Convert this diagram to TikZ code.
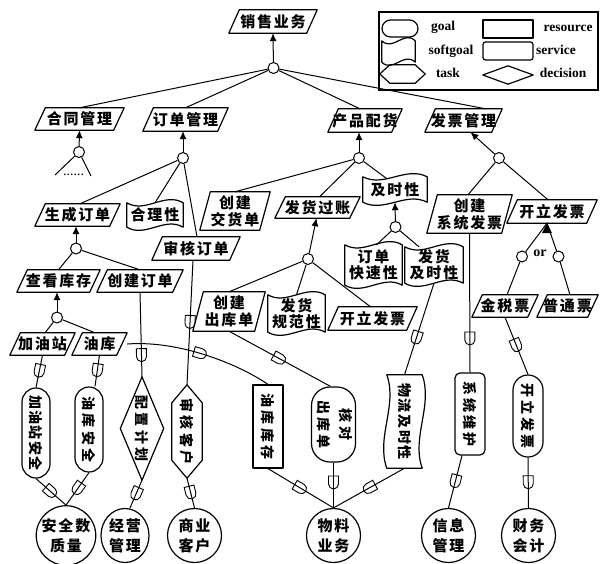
\documentclass[tikz,border=0pt]{standalone}
\usepackage{fontspec}
\setmainfont{Liberation Serif}
\newfontfamily\cjk[LetterSpace=12]{Noto Sans CJK SC}
\newfontfamily\cjkv[LetterSpace=22]{Noto Sans CJK SC}
\usetikzlibrary{calc,arrows.meta,decorations.markings,shapes.geometric}
\def\slant{10.5pt}
\def\wv{11pt}
\tikzset{
  shp/.style={line width=1.2pt, line join=round},
  lnk/.style={line width=1pt},
  arr/.style={lnk, -{Latex[length=8pt,width=7pt]}},
  txt/.style={inner sep=0pt, minimum height=23pt, font=\cjk\bfseries\fontsize{15pt}{17pt}\selectfont, align=center},
  vtxt/.style={inner sep=0pt, font=\cjkv\bfseries\fontsize{14pt}{17pt}\selectfont},
  andc/.style={circle, draw, line width=1pt, minimum size=11pt, inner sep=0pt, fill=white},
  actor/.style={circle, draw, shp, minimum size=54pt, inner sep=0pt, font=\cjk\bfseries\fontsize{15pt}{20pt}\selectfont, align=center},
  lbl/.style={inner sep=0pt, font=\bfseries\fontsize{13.5pt}{15pt}\selectfont},
  dep/.style={postaction={decorate, decoration={markings, mark=at position #1 with {\draw[line width=0.9pt] (-7pt,-5pt) -- (1pt,-5pt) arc[start angle=-90,end angle=90,radius=5pt] -- (-7pt,5pt) -- cycle;}}}},
  dep/.default=0.5
}
\newcommand\tskout[1]{\draw[shp] ($(#1.north west)+(\slant,0pt)$) -- (#1.north east) -- ($(#1.south east)-(\slant,0pt)$) -- (#1.south west) -- cycle;}
\newcommand\tasknd[4][]{\node[txt,#1] (#2) at (#3) {#4};\tskout{#2}}
\newcommand\sgout[1]{\draw[shp] (#1.north west) .. controls ($(#1.north west)!0.33!(#1.north east)+(0pt,-\wv)$) and ($(#1.north west)!0.67!(#1.north east)+(0pt,\wv)$) .. (#1.north east) -- (#1.south east) .. controls ($(#1.south west)!0.67!(#1.south east)+(0pt,\wv)$) and ($(#1.south west)!0.33!(#1.south east)+(0pt,-\wv)$) .. (#1.south west) -- cycle;}
\newcommand\softnd[4][]{\node[txt,#1] (#2) at (#3) {#4};\sgout{#2}}
\newcommand\sgvout[1]{\draw[shp] (#1.north west) -- (#1.north east) .. controls ($(#1.north east)!0.33!(#1.south east)+(\wv,0pt)$) and ($(#1.north east)!0.67!(#1.south east)+(-\wv,0pt)$) .. (#1.south east) -- (#1.south west) .. controls ($(#1.north west)!0.67!(#1.south west)+(-\wv,0pt)$) and ($(#1.north west)!0.33!(#1.south west)+(\wv,0pt)$) .. (#1.north west) -- cycle;}
\newcommand\dmout[1]{\draw[shp] (#1.north) -- (#1.east) -- (#1.south) -- (#1.west) -- cycle;}
\newcommand\hxvout[1]{\draw[shp] (#1.north) -- ($(#1.north east)+(0pt,-18pt)$) -- ($(#1.south east)+(0pt,18pt)$) -- (#1.south) -- ($(#1.south west)+(0pt,18pt)$) -- ($(#1.north west)+(0pt,-18pt)$) -- cycle;}
\begin{document}
\begin{tikzpicture}[x=1pt,y=-1pt]
\useasboundingbox (0,0) rectangle (600,563);
% ---------- legend ----------
\node[draw, line width=1.5pt, minimum width=219pt, minimum height=78pt, inner sep=0pt] (legend) at (488.5,51) {};
\node[draw, shp, rounded corners=8.5pt, minimum width=36pt, minimum height=17pt, inner sep=0pt] (lgoal) at (400,28.5) {};
\node[lbl] (lgoalt) at (443,27) {goal};
\node[inner sep=0pt, minimum width=33pt, minimum height=21pt] (lsoft) at (398.5,51.5) {};
\sgout{lsoft}
\node[lbl] (lsoftt) at (451,51) {softgoal};
\node[inner sep=0pt, minimum width=45pt, minimum height=18pt] (ltask) at (402.5,74) {};
\draw[shp] (ltask.west) -- ($(ltask.north west)+(10pt,0pt)$) -- ($(ltask.north east)+(-10pt,0pt)$) -- (ltask.east) -- ($(ltask.south east)+(-10pt,0pt)$) -- ($(ltask.south west)+(10pt,0pt)$) -- cycle;
\node[lbl] (ltaskt) at (448,73) {task};
\node[draw, shp, minimum width=50pt, minimum height=18pt, inner sep=0pt] (lres) at (508,29) {};
\node[lbl] (lrest) at (568,28) {resource};
\node[draw, shp, rounded corners=2.5pt, minimum width=50pt, minimum height=18pt, inner sep=0pt] (lserv) at (508,51) {};
\node[lbl] (lservt) at (556,50) {service};
\node[inner sep=0pt, minimum width=50pt, minimum height=18pt] (ldec) at (508,75) {};
\dmout{ldec}
\node[lbl] (ldect) at (563,73) {decision};
% ---------- tasks ----------
\tasknd[minimum width=88pt]{xs}{273,21.5}{销售业务}
\tasknd[minimum width=89pt, minimum height=22pt]{htgl}{79.5,119}{合同管理}
\tasknd[minimum width=85pt]{ddgl}{185.5,119.5}{订单管理}
\tasknd[minimum width=74pt]{cppj}{365,120.5}{产品配货}
\tasknd[minimum width=77pt]{fpgl}{463.5,120.5}{发票管理}
\tasknd[minimum width=85pt, minimum height=22pt]{scdd}{77.5,215}{生成订单}
\tasknd[minimum width=88pt]{shdd}{196,248.5}{审核订单}
\tasknd[minimum width=70pt, minimum height=38pt]{cjjhd}{235,211}{创建\\交货单}
\tasknd[minimum width=85pt, minimum height=21pt]{fhgz}{317.5,207.5}{发货过账}
\tasknd[minimum width=83pt, minimum height=22pt]{ckkc}{58.5,281}{查看库存}
\tasknd[minimum width=86pt, minimum height=22pt]{cjdd}{140,281}{创建订单}
\tasknd[minimum width=65pt, minimum height=22pt]{jyz}{42.5,344}{加油站}
\tasknd[minimum width=55pt, minimum height=22pt]{yk}{99.5,344}{油库}
\tasknd[minimum width=72pt, minimum height=39pt]{cjckd}{229,311.5}{创建\\出库单}
\tasknd[minimum width=89pt]{klfpa}{372.5,318.5}{开立发票}
\tasknd[minimum width=85pt, minimum height=38pt]{cjxtfp}{469.5,214}{创建\\系统发票}
\tasknd[minimum width=90pt]{klfpb}{552,211.5}{开立发票}
\tasknd[minimum width=66pt, minimum height=22pt]{jsp}{505,306}{金税票}
\tasknd[minimum width=61pt, minimum height=22pt]{ptp}{567.5,306}{普通票}
% ---------- softgoals ----------
\softnd[minimum width=56pt, minimum height=24pt]{hlx}{155,215}{合理性}
\softnd[minimum width=64pt, minimum height=25pt]{jsx}{395,189.5}{及时性}
\softnd[minimum width=57pt, minimum height=40pt, font=\cjk\bfseries\fontsize{15pt}{16pt}\selectfont]{ddksx}{373.5,265}{订单\\快速性}
\softnd[minimum width=58pt, minimum height=36pt, font=\cjk\bfseries\fontsize{15pt}{16pt}\selectfont]{fhjsx}{434,265}{发货\\及时性}
\softnd[minimum width=57pt, minimum height=37pt, font=\cjk\bfseries\fontsize{15pt}{16pt}\selectfont]{fhgfx}{296.5,313.5}{发货\\规范性}
% ---------- vertical dependums ----------
\node[vtxt, draw, shp, rounded corners=14pt, minimum width=28pt, minimum height=90pt] (jyzaq) at (36,433) {\rotatebox{-90}{\addfontfeature{LetterSpace=10}加油站安全}};
\node[vtxt, draw, shp, rounded corners=14pt, minimum width=28pt, minimum height=85pt] (ykaq) at (89,429.5) {\rotatebox{-90}{油库安全}};
\node[vtxt, minimum width=43pt, minimum height=103pt] (pzjh) at (142,428.5) {\rotatebox{-90}{配置计划}};
\dmout{pzjh}
\node[vtxt, minimum width=30pt, minimum height=93pt] (shkh) at (187,431.5) {\rotatebox{-90}{审核客户}};
\hxvout{shkh}
\node[vtxt, draw, shp, minimum width=30pt, minimum height=83pt] (ykkc) at (268,426.5) {\rotatebox{-90}{油库库存}};
\node[vtxt, draw, shp, rounded corners=18.5pt, minimum width=37pt, minimum height=75pt, font=\cjkv\bfseries\fontsize{14pt}{22pt}\selectfont] (hdckd) at (333.5,424.5) {\rotatebox{-90}{\begin{tabular}{@{}c@{}}核对\\出库单\end{tabular}}};
\node[vtxt, minimum width=35pt, minimum height=93pt] (wljsx) at (404.5,421.5) {\rotatebox{-90}{\addfontfeature{LetterSpace=12}物流及时性}};
\sgvout{wljsx}
\node[vtxt, draw, shp, rounded corners=5pt, minimum width=30pt, minimum height=82pt] (xtwh) at (470,414) {\rotatebox{-90}{系统维护}};
\node[vtxt, draw, shp, rounded corners=15pt, minimum width=30pt, minimum height=82pt] (klfpc) at (528,416) {\rotatebox{-90}{开立发票}};
% ---------- actors ----------
\node[actor] (aqs) at (66,535.5) {安全数\\质量};
\node[actor, ellipse, minimum width=48pt] (jygl) at (125,535.5) {经营\\管理};
\node[actor] (syk) at (194.5,535.5) {商业\\客户};
\node[actor] (wlyw) at (333.5,535.5) {物料\\业务};
\node[actor] (xxgl) at (448.5,535.5) {信息\\管理};
\node[actor] (cwkj) at (528.5,535.5) {财务\\会计};
% ---------- decomposition ----------
\node[andc] (c1) at (273.5,68) {};
\node[andc] (c2) at (79,152) {};
\node[andc] (c3) at (183,158) {};
\node[andc] (c4) at (359,158) {};
\node[andc] (c5) at (499,158) {};
\node[andc] (c6) at (76,248.5) {};
\node[andc] (c7) at (57,317.5) {};
\node[andc] (c8) at (308,259) {};
\node[andc] (c9) at (395.5,227) {};
\node[andc] (c10) at (522,256.5) {};
\node[andc] (c11) at (558.5,256.5) {};
\node[inner sep=0pt, font=\bfseries\fontsize{14pt}{14pt}\selectfont] (ortxt) at (540,253) {or};
\coordinate (htl) at (55,175);
\coordinate (htr) at (91,176);
\node[inner sep=0pt, font=\fontsize{14pt}{14pt}\selectfont] (htdots) at (73.5,175) {......};
\coordinate (ortip) at ([xshift=-5pt]klfpb.south);
% arrows up
\draw[arr] (c1) -- (xs.south);
\draw[arr] (c2) -- (htgl.south);
\draw[arr] (c3) -- ([xshift=-2.5pt]ddgl.south);
\draw[arr] (c4) -- ([xshift=-6pt]cppj.south);
\draw[arr] (c5) -- ([xshift=7pt]fpgl.south);
\draw[arr] (c6) -- ([xshift=-1.5pt]scdd.south);
\draw[arr] (c7) -- ([xshift=-1.5pt]ckkc.south);
\draw[arr] (c8) -- ([xshift=-1pt]fhgz.south);
\draw[arr] (c9) -- (jsx.south);
% decomposition lines
\draw[lnk] (c1) -- (htgl.north);
\draw[lnk] (c1) -- (ddgl.north);
\draw[lnk] (c1) -- ([xshift=-5pt]cppj.north);
\draw[lnk] (c1) -- ([xshift=22pt]fpgl.north);
\draw[lnk] (htl) -- (c2) -- (htr);
\draw[lnk] (c3) -- ([xshift=2.5pt]scdd.north);
\draw[lnk] (c3) -- (hlx.north);
\draw[lnk] (c3) -- ([xshift=1pt]shdd.north);
\draw[lnk] (c4) -- (cjjhd.north);
\draw[lnk] (c4) -- ([xshift=2pt]fhgz.north);
\draw[lnk] (c4) -- ([xshift=-8pt,yshift=-2pt]jsx.north);
\draw[lnk] (c5) -- ([xshift=-1.5pt]cjxtfp.north);
\draw[lnk] (c5) -- ([xshift=-4pt]klfpb.north);
\draw[lnk] (c6) -- (ckkc.north);
\draw[lnk] (c6) -- (cjdd.north);
\draw[lnk] (c7) -- ([xshift=2.5pt]jyz.north);
\draw[lnk] (c7) -- ([xshift=-4.5pt]yk.north);
\draw[lnk] (c8) -- (cjckd.north);
\draw[lnk] (c8) -- (fhgfx.north);
\draw[lnk] (c8) -- ([xshift=-2pt]klfpa.north);
\draw[lnk] (c9) -- ([xshift=3pt]ddksx.north);
\draw[lnk] (c9) -- ([xshift=-15pt]fhjsx.north);
\draw[lnk] (c10) -- ([xshift=2pt]jsp.north);
\draw[lnk] (c11) -- ([xshift=2.5pt]ptp.north);
\draw[lnk] (c10) -- (ortip) -- (c11);
\fill (ortip) -- ++(-5pt,-10pt) -- ++(10pt,0pt) -- cycle;
% dependency links
\draw[lnk, dep] (jyz.south) -- (jyzaq.north);
\draw[lnk, dep] (jyzaq.south) -- (aqs.north);
\draw[lnk, dep] (yk.south) -- ([xshift=6pt]ykaq.north);
\draw[lnk, dep] (ykaq.south) -- (aqs.north);
\draw[lnk, dep=0.75] (cjdd.south) -- (pzjh.north);
\draw[lnk, dep] (pzjh.south) -- ([xshift=5pt]jygl.north);
\draw[lnk, dep] ([xshift=-3pt]shdd.south) -- (shkh.north);
\draw[lnk, dep] (shkh.south) -- (syk.north);
\draw[lnk, dep] (yk.east) .. controls (180,340) and (240,365) .. (ykkc.north);
\draw[lnk, dep] (cjckd.south) -- ([xshift=-3pt]hdckd.north);
\draw[lnk, dep] (ykkc.south) -- (wlyw.north);
\draw[lnk, dep=0.45] (hdckd.south) -- (wlyw.north);
\draw[lnk, dep=0.6] (fhjsx.south) -- (wljsx.north);
\draw[lnk, dep] (wljsx.south) -- (wlyw.north);
\draw[lnk, dep=0.76] (cjxtfp.south) -- (xtwh.north);
\draw[lnk, dep] ([xshift=-8pt]xtwh.south) -- (xxgl.north);
\draw[lnk, dep] (jsp.south) -- (klfpc.north);
\draw[lnk, dep] (klfpc.south) -- (cwkj.north);
\end{tikzpicture}
\end{document}
